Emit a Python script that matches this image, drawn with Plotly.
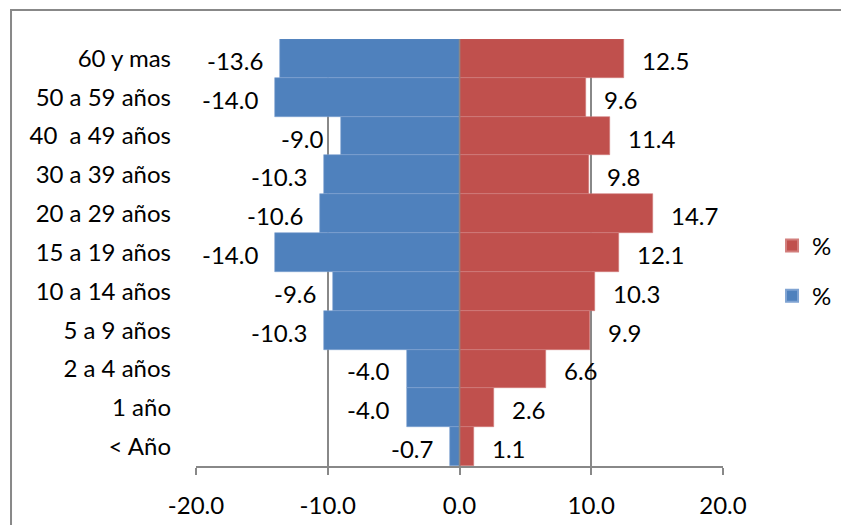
import plotly.graph_objects as go

# Age groups, top to bottom
grupos = ["60 y mas", "50 a 59 años", "40\u00a0 a 49 años", "30 a 39 años", "20 a 29 años",
          "15 a 19 años", "10 a 14 años", "5 a 9 años", "2 a 4 años", "1 año", "< Año"]
# Left side (negative) and right side percentages
pct_izq = [-13.6, -14.0, -9.0, -10.3, -10.6, -14.0, -9.6, -10.3, -4.0, -4.0, -0.7]
pct_der = [12.5, 9.6, 11.4, 9.8, 14.7, 12.1, 10.3, 9.9, 6.6, 2.6, 1.1]
ticks_x = [-20, -10, 0, 10, 20]

AZUL = "#4F81BD"
ROJO = "#C0504D"
GRIS = "#888888"
FUENTE = "Lato"

fig = go.Figure()
fig.add_trace(go.Bar(y=grupos, x=pct_izq, orientation="h", name="%",
                     marker=dict(color=AZUL, line=dict(color="#7FA3D2", width=0.6)),
                     legendgroup="izq", legendrank=2))
fig.add_trace(go.Bar(y=grupos, x=pct_der, orientation="h", name="%",
                     marker=dict(color=ROJO, line=dict(color="#D27E7C", width=0.6)),
                     legendgroup="der", legendrank=1))

# Value labels beside the bar ends
for g, v in zip(grupos, pct_izq):
    fig.add_annotation(x=v, y=g, text=f"{v:.1f}", showarrow=False, xanchor="right",
                       xshift=-15, yshift=-2, font=dict(family=FUENTE, size=24, color="#000"))
for g, v in zip(grupos, pct_der):
    fig.add_annotation(x=v, y=g, text=f"{v:.1f}", showarrow=False, xanchor="left",
                       xshift=16, yshift=-2, font=dict(family=FUENTE, size=24, color="#000"))

# Centre axis line drawn over the bars
fig.add_shape(type="line", xref="x", yref="paper", x0=0, x1=0, y0=0, y1=1,
              line=dict(color=GRIS, width=1.5), layer="above")
# Chart frame
fig.add_shape(type="rect", xref="paper", yref="paper", x0=-0.351, x1=1.6, y0=-0.5, y1=1.068,
              line=dict(color=GRIS, width=2), layer="below")

fig.update_layout(
    width=841, height=525,
    margin=dict(l=196, r=118, t=39, b=59, autoexpand=False),
    paper_bgcolor="white", plot_bgcolor="white",
    barmode="overlay", bargap=0,
    font=dict(family=FUENTE, size=24, color="#000"),
    legend=dict(x=0.918, y=0.484, xanchor="left", yanchor="middle",
                traceorder="grouped", tracegroupgap=16, itemsizing="constant",
                font=dict(family=FUENTE, size=24), bgcolor="rgba(0,0,0,0)"),
    xaxis=dict(range=[-20, 20], tickvals=ticks_x, ticktext=[f"{t:.1f}" for t in ticks_x],
               showgrid=True, gridcolor=GRIS, gridwidth=1.5, zeroline=False,
               showline=True, linecolor=GRIS, linewidth=1.5,
               ticks="outside", ticklen=7, tickcolor=GRIS, tickwidth=1.5,
               ticklabelstandoff=10, fixedrange=True),
    yaxis=dict(autorange="reversed", showgrid=False, zeroline=False, showline=False,
               ticks="", ticklabelstandoff=24, fixedrange=True),
)
fig.update_layout(legend_xref="container", legend_yref="container")

fig.write_html("out.html")
